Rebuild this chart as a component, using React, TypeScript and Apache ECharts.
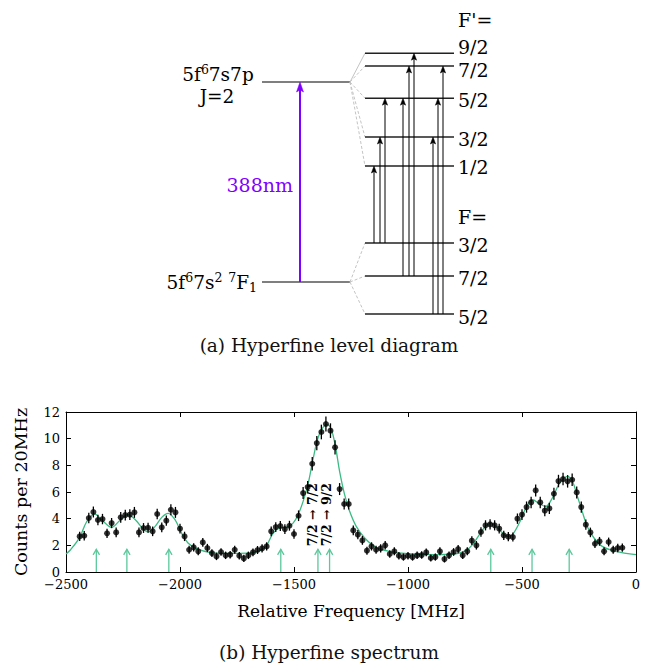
import React, { useEffect, useRef } from 'react';
import * as echarts from 'echarts';

const SERIF = '"DejaVu Serif", "Liberation Serif", serif';
const GREEN = '#3cba84';
const GREEN_ARROW = '#5cc89c';
const PURPLE = '#7f00ff';

// ---------- (b) spectrum: counts per 20 MHz bin ----------
const binFreq = [
  -2440, -2420, -2400, -2380, -2360, -2340, -2320, -2300, -2280, -2260,
  -2240, -2220, -2200, -2180, -2160, -2140, -2120, -2100, -2080, -2060,
  -2040, -2020, -2000, -1980, -1960, -1940, -1920, -1900, -1880, -1860,
  -1840, -1820, -1800, -1780, -1760, -1740, -1720, -1700, -1680, -1660,
  -1640, -1620, -1600, -1580, -1560, -1540, -1520, -1500, -1480, -1460,
  -1440, -1420, -1400, -1380, -1360, -1340, -1320, -1300, -1280, -1260,
  -1240, -1220, -1200, -1180, -1160, -1140, -1120, -1100, -1080, -1060,
  -1040, -1020, -1000, -980, -960, -940, -920, -900, -880, -860,
  -840, -820, -800, -780, -760, -740, -720, -700, -680, -660,
  -640, -620, -600, -580, -560, -540, -520, -500, -480, -460,
  -440, -420, -400, -380, -360, -340, -320, -300, -280, -260,
  -240, -220, -200, -180, -160, -140, -120, -100, -80, -60,
];

const counts = [
  2.67, 2.72, 4.05, 4.5, 3.9, 3.97, 2.9, 3.67, 2.97, 4.1,
  4.27, 4.3, 4.47, 2.97, 3.3, 3.32, 3.05, 4.35, 3.35, 3.85,
  4.67, 4.47, 3.25, 2.67, 1.67, 1.85, 1.55, 2.22, 1.8, 1.42,
  1.17, 1.5, 1.25, 1.3, 1.67, 1.22, 1.02, 1.25, 1.47, 1.65,
  1.77, 1.92, 3.05, 3.37, 3.45, 3.22, 3.47, 2.85, 4.22, 5.92,
  6.37, 8.12, 9.67, 10.5, 11.1, 10.6, 9.35, 6.22, 5.1, 5.1,
  3.12, 2.8, 2.37, 1.6, 1.92, 1.67, 1.77, 2.0, 1.35, 1.55,
  1.22, 1.12, 1.22, 1.12, 1.25, 1.27, 1.47, 1.05, 1.12, 1.55,
  0.97, 1.25, 1.5, 1.72, 1.25, 1.55, 2.35, 2.0, 3.0, 3.5,
  3.57, 3.5, 3.25, 2.75, 2.65, 2.62, 4.0, 4.3, 4.87, 5.22,
  6.12, 5.22, 4.6, 4.77, 5.87, 6.82, 6.97, 6.8, 6.92, 5.97,
  4.87, 3.55, 2.97, 2.12, 2.3, 1.55, 2.25, 1.67, 1.8, 1.82,
];

const countErrors = [
  0.35, 0.35, 0.39, 0.41, 0.39, 0.39, 0.35, 0.38, 0.36, 0.40,
  0.40, 0.40, 0.41, 0.36, 0.37, 0.37, 0.36, 0.40, 0.37, 0.39,
  0.41, 0.41, 0.37, 0.35, 0.30, 0.31, 0.30, 0.33, 0.31, 0.29,
  0.28, 0.29, 0.28, 0.28, 0.30, 0.28, 0.27, 0.28, 0.29, 0.30,
  0.31, 0.31, 0.36, 0.37, 0.37, 0.37, 0.37, 0.35, 0.40, 0.45,
  0.46, 0.50, 0.53, 0.55, 0.56, 0.55, 0.53, 0.45, 0.42, 0.42,
  0.36, 0.35, 0.33, 0.30, 0.31, 0.30, 0.31, 0.32, 0.29, 0.30,
  0.28, 0.27, 0.28, 0.27, 0.28, 0.28, 0.29, 0.27, 0.27, 0.30,
  0.26, 0.28, 0.29, 0.31, 0.28, 0.30, 0.33, 0.32, 0.36, 0.38,
  0.38, 0.38, 0.37, 0.35, 0.35, 0.34, 0.39, 0.40, 0.42, 0.43,
  0.45, 0.43, 0.41, 0.42, 0.45, 0.47, 0.47, 0.47, 0.47, 0.45,
  0.42, 0.38, 0.36, 0.32, 0.33, 0.30, 0.33, 0.30, 0.31, 0.31,
];

// fitted line shape, sampled
const fitFreq = [
  -2500, -2480, -2440, -2410, -2375, -2340, -2300, -2265, -2230, -2195,
  -2160, -2140, -2110, -2080, -2052, -2022, -1993, -1965, -1927, -1870,
  -1800, -1700, -1650, -1620, -1592, -1562, -1533, -1504, -1482, -1460,
  -1439, -1417, -1395, -1373, -1355, -1336, -1317, -1300, -1278, -1256,
  -1227, -1190, -1140, -1080, -1000, -880, -790, -746, -717, -687,
  -658, -636, -614, -585, -564, -542, -512, -483, -454, -424,
  -396, -367, -337, -301, -279, -257, -236, -214, -184, -148,
  -89, 0,
];
const fitCounts = [
  1.35, 1.67, 2.6, 3.75, 4.35, 3.85, 3.35, 3.85, 4.3, 3.9,
  3.2, 3.0, 3.4, 4.1, 4.4, 3.92, 2.92, 2.17, 1.75, 1.47,
  1.4, 1.42, 1.6, 2.0, 2.9, 3.3, 3.35, 3.67, 4.3, 5.3,
  6.55, 8.42, 10.05, 10.85, 11.05, 10.67, 9.3, 7.55, 5.8, 4.55,
  3.42, 2.55, 1.85, 1.55, 1.37, 1.3, 1.37, 1.6, 2.05, 2.8,
  3.47, 3.67, 3.42, 2.92, 2.67, 2.8, 3.67, 4.8, 5.42, 5.12,
  4.92, 5.55, 6.6, 7.17, 6.8, 5.67, 4.55, 3.42, 2.55, 1.92,
  1.55, 1.3,
];

// hyperfine component positions (MHz)
const peakFreq = [-2367, -2233, -2049, -1558, -1395, -1344, -637, -456, -293];

// rotated labels next to the two central components
const peakLabelText = ['7/2 \u2192 7/2', '7/2 \u2192 9/2'];
const peakLabelFreq = [-1418, -1357];
const peakLabelCount = [4.3, 4.3];

const xTicks = [-2500, -2000, -1500, -1000, -500, 0];
const yTicks = [0, 2, 4, 6, 8, 10, 12];

// ---------- (a) level diagram: level heights in diagram units ----------
const fineE = [100, 0]; // 5f6 7s7p J=2, 5f6 7s2 7F1
const upperF = ['9/2', '7/2', '5/2', '3/2', '1/2'];
const upperE = [114.4, 108, 91.9, 72.5, 58];
const lowerF = ['3/2', '7/2', '5/2'];
const lowerE = [19.5, 3, -16];
// each transition: lower F index -> upper F' index
const transLower = [0, 0, 0, 1, 1, 1, 2, 2, 2];
const transUpper = [4, 3, 2, 2, 1, 0, 3, 2, 1];

// drawing layout of the diagram (x in px, label heights in diagram units)
const fineX = [262, 350];
const hfX = [365, 454];
const laserX = 300;
const transX = [374, 380, 385, 403, 409, 414, 433, 438, 443];
const labelX = 458;
const upperLabelE = [117.5, 106, 91.25, 71.5, 57.5];
const lowerLabelE = [18.5, 2.25, -17.25];

const fmtMinus = (v: number) => (v < 0 ? '\u2212' + Math.abs(v) : String(v));

function renderDiagram(_params: any, api: any) {
  const P = (x: number, e: number) => api.coord([x, e]);
  const kids: any[] = [];
  const seg = (a: number[], b: number[], style: any) =>
    kids.push({ type: 'line', shape: { x1: a[0], y1: a[1], x2: b[0], y2: b[1] }, style });
  const text = (pos: number[], t: string, extra: any = {}) =>
    kids.push({
      type: 'text',
      x: pos[0],
      y: pos[1],
      style: {
        text: t,
        fontFamily: SERIF,
        fontSize: 19,
        lineHeight: 18,
        fill: '#000',
        align: 'left',
        verticalAlign: 'middle',
        ...extra,
      },
    });

  // fine-structure levels
  fineE.forEach((e) => seg(P(fineX[0], e), P(fineX[1], e), { stroke: '#000', lineWidth: 1.2 }));

  // connectors to the hyperfine manifolds
  upperE.forEach((e, i) =>
    seg(P(fineX[1], fineE[0]), P(hfX[0], e), {
      stroke: '#c4c4c4',
      lineWidth: 1,
      lineDash: i === 0 ? null : [3, 2],
    })
  );
  lowerE.forEach((e) =>
    seg(P(fineX[1], fineE[1]), P(hfX[0], e), { stroke: '#c4c4c4', lineWidth: 1, lineDash: [3, 2] })
  );

  // hyperfine levels
  [...upperE, ...lowerE].forEach((e) =>
    seg(P(hfX[0], e), P(hfX[1], e), { stroke: '#222', lineWidth: 1.4 })
  );

  // laser excitation arrow
  const lb = P(laserX, fineE[1]);
  const lt = P(laserX, fineE[0]);
  seg(lb, [lt[0], lt[1] + 8], { stroke: PURPLE, lineWidth: 2 });
  kids.push({
    type: 'polygon',
    shape: { points: [[lt[0], lt[1]], [lt[0] - 3.5, lt[1] + 10], [lt[0], lt[1] + 8], [lt[0] + 3.5, lt[1] + 10]] },
    style: { fill: PURPLE, stroke: PURPLE, lineWidth: 0.5 },
  });

  // hyperfine transitions
  transX.forEach((x, k) => {
    const b = P(x, lowerE[transLower[k]]);
    const t = P(x, upperE[transUpper[k]]);
    seg(b, [t[0], t[1] + 5], { stroke: '#000', lineWidth: 1 });
    kids.push({
      type: 'polygon',
      shape: { points: [[t[0], t[1]], [t[0] - 2.6, t[1] + 7], [t[0], t[1] + 5.5], [t[0] + 2.6, t[1] + 7]] },
      style: { fill: '#000', stroke: '#000', lineWidth: 0.5 },
    });
  });

  // labels: small tokens pinned to the top / bottom of the 16px line box
  const rich = {
    n: { fontFamily: SERIF, fontSize: 18.5, lineHeight: 16, fill: '#000' },
    sup: { fontFamily: SERIF, fontSize: 12.5, height: 6, lineHeight: 6, verticalAlign: 'top', fill: '#000' },
    sub: { fontFamily: SERIF, fontSize: 12.5, height: 6, lineHeight: 6, verticalAlign: 'bottom', fill: '#000' },
  };
  text(P(218, 104), '{n|5f}{sup|6}{n|7s7p}', { align: 'center', rich, lineHeight: 16 });
  text(P(217, 93), 'J=2', { align: 'center', fontSize: 18.5, lineHeight: 16 });
  text(P(257, 0), '{n|5f}{sup|6}{n|7s}{sup|2}{n| }{sup|7}{n|F}{sub|1}', { align: 'right', rich, lineHeight: 16 });
  text(P(293, 48.5), '388nm', { align: 'right', fill: PURPLE });

  text(P(labelX, 131), "F'=");
  upperF.forEach((f, i) => text(P(labelX, upperLabelE[i]), f));
  text(P(labelX, 32.5), 'F=');
  lowerF.forEach((f, i) => text(P(labelX, lowerLabelE[i]), f));

  return { type: 'group', children: kids };
}

function buildOption(): any {
  const axisBlack = { lineStyle: { color: '#000', width: 1 } };
  const tickIn = { show: true, inside: true, length: 5, lineStyle: { color: '#000', width: 1 } };

  return {
    animation: false,
    backgroundColor: '#fff',
    grid: [
      { left: 66, top: 412, width: 570, height: 160 },
      { left: 0, top: 2, width: 652, height: 340 },
    ],
    xAxis: [
      {
        type: 'value',
        gridIndex: 0,
        min: xTicks[0],
        max: xTicks[xTicks.length - 1],
        interval: 500,
        position: 'bottom',
        axisLine: { show: true, onZero: false, ...axisBlack },
        axisTick: tickIn,
        splitLine: { show: false },
        axisLabel: { formatter: fmtMinus, color: '#000', fontFamily: SERIF, fontSize: 13, lineHeight: 11, margin: 7 },
        name: 'Relative Frequency [MHz]',
        nameLocation: 'middle',
        nameGap: 30,
        nameTextStyle: { color: '#000', fontFamily: SERIF, fontSize: 17 },
      },
      {
        type: 'value',
        gridIndex: 0,
        min: xTicks[0],
        max: xTicks[xTicks.length - 1],
        interval: 500,
        position: 'top',
        axisLine: { show: true, onZero: false, ...axisBlack },
        axisTick: tickIn,
        axisLabel: { show: false },
        splitLine: { show: false },
      },
      { type: 'value', gridIndex: 1, min: 0, max: 652, show: false },
    ],
    yAxis: [
      {
        type: 'value',
        gridIndex: 0,
        min: yTicks[0],
        max: yTicks[yTicks.length - 1],
        interval: 2,
        position: 'left',
        axisLine: { show: true, onZero: false, ...axisBlack },
        axisTick: tickIn,
        splitLine: { show: false },
        axisLabel: { color: '#000', fontFamily: SERIF, fontSize: 13, lineHeight: 11, margin: 6 },
        name: 'Counts per 20MHz',
        nameLocation: 'middle',
        nameGap: 36,
        nameRotate: 90,
        nameTextStyle: { color: '#000', fontFamily: SERIF, fontSize: 17.5 },
      },
      {
        type: 'value',
        gridIndex: 0,
        min: yTicks[0],
        max: yTicks[yTicks.length - 1],
        interval: 2,
        position: 'right',
        axisLine: { show: true, onZero: false, ...axisBlack },
        axisTick: tickIn,
        axisLabel: { show: false },
        splitLine: { show: false },
      },
      { type: 'value', gridIndex: 1, min: -30, max: 140, show: false },
    ],
    graphic: [
      {
        type: 'text',
        x: 329,
        y: 345,
        style: {
          text: '(a) Hyperfine level diagram',
          fontFamily: SERIF,
          fontSize: 18.5,
          fill: '#111',
          align: 'center',
          verticalAlign: 'middle',
        },
      },
      {
        type: 'text',
        x: 329,
        y: 652,
        style: {
          text: '(b) Hyperfine spectrum',
          fontFamily: SERIF,
          fontSize: 18.5,
          fill: '#111',
          align: 'center',
          verticalAlign: 'middle',
        },
      },
    ],
    series: [
      {
        type: 'custom',
        name: 'level diagram',
        coordinateSystem: 'cartesian2d',
        xAxisIndex: 2,
        yAxisIndex: 2,
        data: [[0, 0]],
        renderItem: renderDiagram,
        silent: true,
      },
      {
        type: 'line',
        name: 'fit',
        xAxisIndex: 0,
        yAxisIndex: 0,
        data: fitFreq.map((f, i) => [f, fitCounts[i]]),
        showSymbol: false,
        smooth: 0.35,
        lineStyle: { color: GREEN, width: 1.3 },
        z: 2,
      },
      {
        type: 'custom',
        name: 'components',
        xAxisIndex: 0,
        yAxisIndex: 0,
        data: peakFreq.map((f) => [f, 1.7]),
        renderItem: (_p: any, api: any) => {
          const b = api.coord([api.value(0), 0]);
          const t = api.coord([api.value(0), api.value(1)]);
          return {
            type: 'group',
            children: [
              { type: 'line', shape: { x1: b[0], y1: b[1], x2: t[0], y2: t[1] }, style: { stroke: GREEN_ARROW, lineWidth: 1.3 } },
              {
                type: 'polyline',
                shape: { points: [[t[0] - 3.2, t[1] + 5.5], [t[0], t[1]], [t[0] + 3.2, t[1] + 5.5]] },
                style: { stroke: GREEN_ARROW, fill: 'none', lineWidth: 1.3 },
              },
            ],
          };
        },
        z: 2,
      },
      {
        type: 'custom',
        name: 'errors',
        xAxisIndex: 0,
        yAxisIndex: 0,
        data: binFreq.map((f, i) => [f, counts[i] - countErrors[i], counts[i] + countErrors[i]]),
        renderItem: (_p: any, api: any) => {
          const lo = api.coord([api.value(0), api.value(1)]);
          const hi = api.coord([api.value(0), api.value(2)]);
          return {
            type: 'line',
            shape: { x1: lo[0], y1: lo[1], x2: hi[0], y2: hi[1] },
            style: { stroke: '#000', lineWidth: 1.3 },
          };
        },
        z: 3,
      },
      {
        type: 'scatter',
        name: 'counts',
        xAxisIndex: 0,
        yAxisIndex: 0,
        data: binFreq.map((f, i) => [f, counts[i]]),
        symbol: 'circle',
        symbolSize: 6,
        itemStyle: { color: '#000' },
        z: 4,
      },
      {
        type: 'custom',
        name: 'component labels',
        xAxisIndex: 0,
        yAxisIndex: 0,
        data: peakLabelFreq.map((f, i) => [f, peakLabelCount[i], i]),
        renderItem: (_p: any, api: any) => {
          const c = api.coord([api.value(0), api.value(1)]);
          return {
            type: 'text',
            x: c[0],
            y: c[1],
            rotation: Math.PI / 2,
            style: {
              text: peakLabelText[api.value(2)],
              fontFamily: SERIF,
              fontWeight: 'bold',
              fontSize: 12.5,
              fill: '#000',
              align: 'center',
              verticalAlign: 'middle',
            },
          };
        },
        z: 5,
      },
    ],
  };
}

export default function App() {
  const ref = useRef<HTMLDivElement>(null);
  useEffect(() => {
    if (!ref.current) return;
    const chart = echarts.init(ref.current, undefined, { renderer: 'svg' });
    chart.setOption(buildOption());
    return () => chart.dispose();
  }, []);
  return (
    <div
      ref={ref}
      style={{ position: 'absolute', left: 0, top: 0, width: 652, height: 668, background: '#fff' }}
    />
  );
}
